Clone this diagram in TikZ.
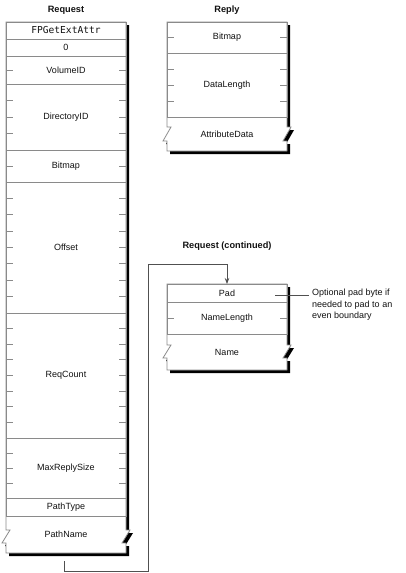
\documentclass[tikz,border=0pt]{standalone}
\usepackage{fontspec}
\setmainfont{Liberation Sans}
\newfontfamily\monofont{DejaVu Sans Mono}
\usetikzlibrary{arrows.meta,positioning,calc,shadows}
\definecolor{rule}{HTML}{8A8A8A}
\definecolor{ink}{HTML}{111111}
\definecolor{link}{HTML}{505050}
% outline of a packet, broken in its last field: left, top, right, bottom, break top, break bottom
\newcommand{\packetbox}[6]{%
  \draw[outline] (#1,#2) -- (#3,#2) -- (#3,#5) -- (#3+4,#5) -- (#3-4,#6) -- (#3,#6)
    -- (#3,#4) -- (#1,#4) -- (#1,#6) -- (#1-4,#6) -- (#1+4,#5) -- (#1,#5) -- cycle;}
\tikzset{
    %Define standard arrow tip
    >={Stealth[length=6pt,width=4.5pt]},
    %Define style for packet outlines
    outline/.style={
   	draw=rule, line width=.8pt, fill=white,
   	drop shadow={shadow xshift=3pt, shadow yshift=-3pt, opacity=1, fill=black}
   },
    %Define style for fields
    field/.style={
   	rectangle,
   	draw=rule, line width=.8pt,
   	minimum width=120pt,
   	inner sep=0pt, outer sep=0pt,
   	font=\fontsize{9}{10}\selectfont,
   	text=ink,
   	text centered
   },
   open/.style={field, draw=none},
   mono/.style={font=\monofont\fontsize{9.6}{10}\selectfont},
   title/.style={font=\bfseries\fontsize{9.2}{11}\selectfont, text=ink},
   tick/.style={draw=rule, line width=.8pt},
   % byte marks on both sides of a field
   ticks/.style={path picture={
   	\foreach \k in {1,...,#1}{
   	  \draw[tick] ($(path picture bounding box.north west)!\k/(#1+1)!(path picture bounding box.south west)$) -- ++(7pt,0);
   	  \draw[tick] ($(path picture bounding box.north east)!\k/(#1+1)!(path picture bounding box.south east)$) -- ++(-7pt,0);}
   }},
    % Define arrow style
    link/.style={
           draw=link, line width=.8pt},
   note/.style={
   	font=\fontsize{9}{11.5}\selectfont,
   	text=ink, align=left, inner sep=0pt
   }
}
\begin{document}
\begin{tikzpicture}[x=1pt,y=-1pt]
		\useasboundingbox (0,0) rectangle (405,573);
		\packetbox{6}{22}{126}{553}{530}{543}
		\packetbox{167}{22}{287}{151}{127}{141}
		\packetbox{167}{284}{287}{370}{345}{358}
		% request
		\node[title](reqtitle) at (66,10){Request};
		\node[field, mono, minimum height=17pt](cmd) at (66,30.5){FPGetExtAttr};
		\node[field, minimum height=17pt, below=0pt of cmd](zero){0};
		\node[field, minimum height=28pt, ticks=1, below=0pt of zero](volume){VolumeID};
		\node[field, minimum height=66pt, ticks=3, below=0pt of volume](directory){DirectoryID};
		\node[field, minimum height=32pt, ticks=1, below=0pt of directory](bitmap){Bitmap};
		\node[field, minimum height=131pt, ticks=7, below=0pt of bitmap](offset){Offset};
		\node[field, minimum height=125pt, ticks=7, below=0pt of offset](reqcount){ReqCount};
		\node[field, minimum height=60pt, ticks=3, below=0pt of reqcount](maxreply){MaxReplySize};
		\node[field, minimum height=18pt, below=0pt of maxreply](pathtype){PathType};
		\node[open, minimum height=37pt, below=0pt of pathtype](pathname){PathName};
		% reply
		\node[title](reptitle) at (227,10){Reply};
		\node[field, minimum height=31pt, ticks=1](replybitmap) at (227,37.5){Bitmap};
		\node[field, minimum height=64pt, ticks=3, below=0pt of replybitmap](datalength){DataLength};
		\node[open, minimum height=34pt, below=0pt of datalength](attrdata){AttributeData};
		% request, continued
		\node[title](contitle) at (227,246){Request (continued)};
		\node[field, minimum height=18pt](pad) at (227,293){Pad};
		\node[field, minimum height=32pt, ticks=1, below=0pt of pad](namelength){NameLength};
		\node[open, minimum height=36pt, below=0pt of namelength](name){Name};
		\node[note, anchor=north west](padnote) at (312,289){Optional pad byte if\\needed to pad to an\\even boundary};
		\coordinate (padtip) at ([xshift=-12pt,yshift=-2pt]pad.east);
		\draw[link, shorten >=3pt] (padtip) -- (padtip -| padnote.west);
		% continuation
		\coordinate (reqout) at (64,561);
		\coordinate (base) at (64,571);
		\coordinate (turn) at (148,264);
		\draw[link, ->] (reqout) -- (base) -| (turn) -| (pad.north);
\end{tikzpicture}
\end{document}
